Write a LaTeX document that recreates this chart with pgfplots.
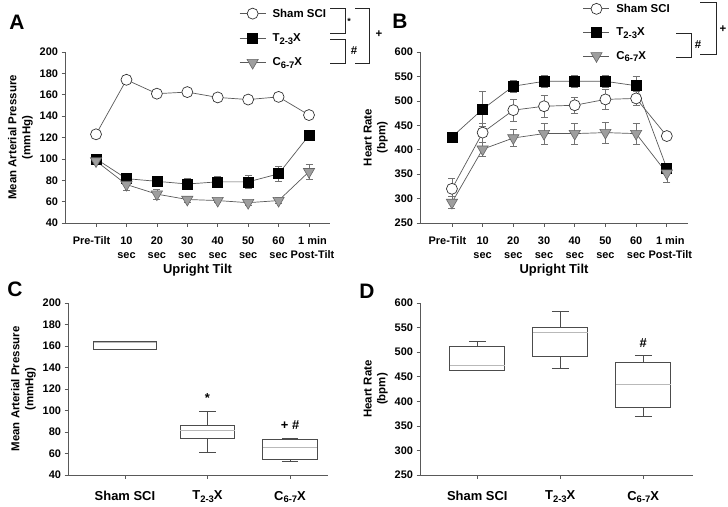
\documentclass[border=0pt]{standalone}
\usepackage{fontspec}
\setmainfont{Liberation Sans}
\usepackage{pgfplots}
\pgfplotsset{compat=1.18}
\usepgfplotslibrary{statistics}

\definecolor{axisg}{gray}{0.35}
\definecolor{lineg}{gray}{0.35}
\definecolor{errg}{gray}{0.45}
\definecolor{trif}{gray}{0.62}
\definecolor{boxg}{gray}{0.30}

\newcommand\lab{\fontsize{11.5}{14}\selectfont\bfseries}
\newcommand\tck{\fontsize{11}{14}\selectfont\bfseries}
\newcommand\lbig{\fontsize{13}{15}\selectfont\bfseries}
\newcommand\sub[1]{{\fontsize{9.5}{9.5}\selectfont\raisebox{-2.8bp}{#1}}}
\newcommand\Tx{T\sub{2-3}X}
\newcommand\Cx{C\sub{6-7}X}

\pgfplotsset{
  panel/.style={
    scale only axis,
    anchor=south west,
    axis lines=left,
    axis line style={-, draw=axisg, line width=0.7pt},
    every tick/.style={draw=axisg, line width=0.7pt},
    tick align=outside,
    major tick length=3.5bp,
    font=\lab,
    tick label style={font=\tck},
    /pgf/number format/assume math mode=true,
    ylabel style={align=center, font=\lab},
    xlabel style={font=\lbig},
  },
  tilt/.style={
    panel,
    xtick={0,...,7},
    xticklabels={{Pre-Tilt\hspace*{9bp}},{10\\sec},{20\\sec},{30\\sec},{40\\sec},{50\\sec},{60\\sec},
      {\hspace*{7bp}1 min\\\hspace*{7bp}Post-Tilt}},
    xticklabel style={align=center, yshift=-7bp},
    xlabel={Upright Tilt},
    xlabel style={yshift=2bp},
    legend cell align=left,
    legend image code/.code={\draw[mark repeat=2,mark phase=2] plot coordinates {(0bp,0bp) (13bp,0bp) (26bp,0bp)};},
  },
  leg/.style={legend style={draw=none, fill=none, anchor=north west, font=\lab,
    inner sep=0pt, nodes={inner sep=1.5bp},
    /tikz/every odd column/.append style={column sep=5bp}}},
  errs/.style={
    error bars/y dir=both, error bars/y explicit,
    error bars/error bar style={errg, line width=0.6pt},
    error bars/error mark options={rotate=90, mark size=3.5bp, errg, line width=0.6pt},
  },
  sham/.style={errs, lineg, line width=0.7pt, mark=*, mark size=5.5bp, mark options={fill=white, draw=black!80, line width=0.7pt}},
  tx/.style={errs, lineg, line width=0.7pt, mark=square*, mark size=5bp, mark options={fill=black, draw=black}},
  cx/.style={errs, lineg, line width=0.7pt, mark=triangle*, mark size=6.5bp, mark options={rotate=180, fill=trif, draw=black!60, line width=0.6pt}},
  boxes/.style={
    panel,
    xtick={0,1,2},
    xticklabels={Sham SCI,\Tx,\Cx},
    xticklabel style={font=\lbig, yshift=-9bp},
    boxplot/draw direction=y,
    boxplot/every box/.style={fill=white},
    boxplot/every median/.style={draw=gray!55},
    boxplot/whisker extend=0.2,
  },
  bx/.style={boxg, line width=0.8pt},
}

\begin{document}
\begin{tikzpicture}
\useasboundingbox (0,0) rectangle (728bp,-507bp);

% A: mean arterial pressure over the tilt
\begin{axis}[tilt, at={(65bp,-223bp)}, width=265bp, height=171bp,
  xmin=-1.02, xmax=7.69, ymin=40, ymax=200, ytick={40,60,...,200},
  ylabel={Mean Arterial Pressure\\(mmHg)},
  leg, legend style={at={(0.657,1.263)}, row sep=12bp}]
\addplot[sham] coordinates {(0,123) +- (0,1.5) (1,174) +- (0,1.5) (2,161) +- (0,1.5) (3,162.5) +- (0,1.5)
  (4,157.5) +- (0,1.5) (5,155.5) +- (0,1.5) (6,158) +- (0,1.5) (7,141) +- (0,1.5)};
\addplot[tx] coordinates {(0,100) +- (0,2) (1,81.5) +- (0,3) (2,79) +- (0,3) (3,76.5) +- (0,5)
  (4,78.5) +- (0,5) (5,78.5) +- (0,6) (6,86) +- (0,7) (7,122) +- (0,3)};
\addplot[cx] coordinates {(0,98) +- (0,2) (1,76) +- (0,5) (2,67) +- (0,5) (3,62) +- (0,3)
  (4,61) +- (0,2) (5,59) +- (0,2) (6,61) +- (0,3) (7,88) +- (0,7)};
\legend{Sham SCI,\Tx,\Cx}
\end{axis}

% B: heart rate over the tilt
\begin{axis}[tilt, at={(420bp,-223bp)}, width=268bp, height=171bp,
  xmin=-1.04, xmax=7.69, ymin=250, ymax=600, ytick={250,300,...,600},
  ylabel={Heart Rate\\(bpm)},
  leg, legend style={at={(0.608,1.291)}, row sep=11bp}]
\addplot[sham] coordinates {(0,320) +- (0,22) (1,435) +- (0,20) (2,481) +- (0,22) (3,489) +- (0,22)
  (4,491) +- (0,16) (5,503) +- (0,20) (6,505) +- (0,15) (7,428) +- (0,5)};
\addplot[tx] coordinates {(0,426) +- (0,5) (1,483) +- (0,36) (2,530) +- (0,12) (3,540) +- (0,12)
  (4,540) +- (0,12) (5,540) +- (0,12) (6,531) +- (0,20) (7,362) +- (0,10)};
\addplot[cx] coordinates {(0,292) +- (0,12) (1,401) +- (0,15) (2,424) +- (0,18) (3,433) +- (0,22)
  (4,433) +- (0,21) (5,435) +- (0,22) (6,433) +- (0,21) (7,352) +- (0,18)};
\legend{Sham SCI,\Tx,\Cx}
\end{axis}

% C: mean arterial pressure, box plots
\begin{axis}[boxes, at={(68bp,-475bp)}, width=260bp, height=172bp,
  xmin=-0.69, xmax=2.46, ymin=40, ymax=200, ytick={40,60,...,200},
  ylabel={Mean Arterial Pressure\\(mmHg)}]
\addplot[bx, boxplot prepared={lower whisker=157, lower quartile=157, median=163,
  upper quartile=164.6, upper whisker=164.6, draw position=0, box extend=0.76}] coordinates {};
\addplot[bx, boxplot prepared={lower whisker=61, lower quartile=74.5, median=81.7,
  upper quartile=86, upper whisker=99, draw position=1, box extend=0.66}] coordinates {};
\addplot[bx, boxplot prepared={lower whisker=53, lower quartile=54.7, median=66,
  upper quartile=73.3, upper whisker=74, draw position=2, box extend=0.66}] coordinates {};
\node[font=\lbig] at (axis cs:1,112) {*};
\node[font=\lbig] at (axis cs:2,86) {+ \#};
\end{axis}

% D: heart rate, box plots
\begin{axis}[boxes, at={(420bp,-475bp)}, width=273bp, height=172bp,
  xmin=-0.69, xmax=2.6, ymin=250, ymax=600, ytick={250,300,...,600},
  ylabel={Heart Rate\\(bpm)}]
\addplot[bx, boxplot prepared={lower whisker=462, lower quartile=462, median=473.6,
  upper quartile=511.6, upper whisker=522.5, draw position=0, box extend=0.66}] coordinates {};
\addplot[bx, boxplot prepared={lower whisker=467, lower quartile=491, median=540,
  upper quartile=551, upper whisker=582, draw position=1, box extend=0.66}] coordinates {};
\addplot[bx, boxplot prepared={lower whisker=370, lower quartile=388, median=434,
  upper quartile=479, upper whisker=493, draw position=2, box extend=0.66}] coordinates {};
\node[font=\lbig] at (axis cs:2,519) {\#};
\end{axis}

% panel letters and significance brackets
\begin{scope}[x=1bp, y=-1bp, line width=0.8pt, draw=black!85]
\foreach \l/\x/\y in {A/17/22, B/400/21, C/15/289, D/367/291}
  \node[font=\fontsize{21}{21}\selectfont\bfseries] at (\x,\y) {\l};
\draw (330,8) -- (345,8) -- (345,33) -- (330,33);
\draw (330,39) -- (345,39) -- (345,63) -- (330,63);
\draw (355,8) -- (369,8) -- (369,63) -- (355,63);
\node[font=\fontsize{9}{9}\selectfont\bfseries] at (349,21) {*};
\node[font=\lab] at (354,51) {\#};
\node[font=\lab] at (379,34) {+};
\draw (676,33) -- (691,33) -- (691,57) -- (676,57);
\draw (700,2) -- (716,2) -- (716,54) -- (700,54);
\node[font=\lab] at (698,45) {\#};
\node[font=\lab] at (723,29) {+};
\end{scope}
\end{tikzpicture}
\end{document}
